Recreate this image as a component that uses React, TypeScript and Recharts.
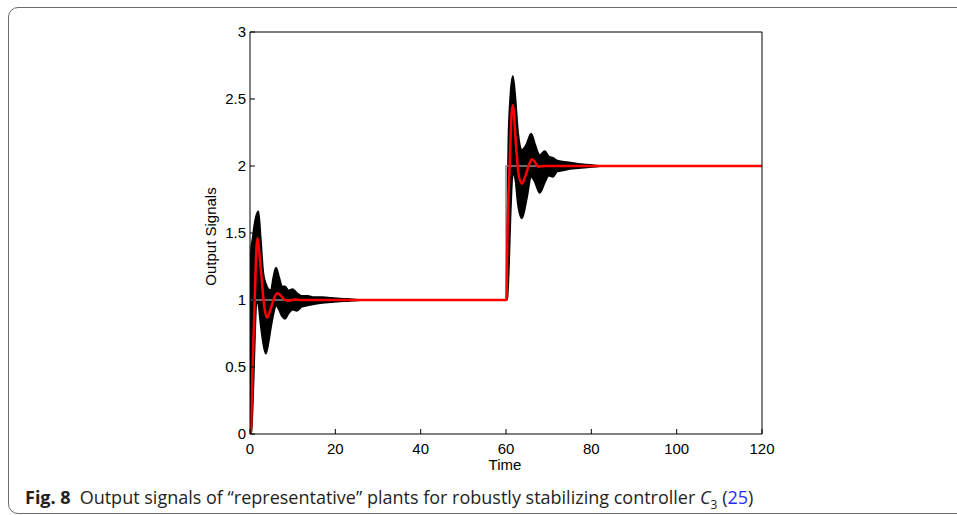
import { ComposedChart, Area, Line, XAxis, YAxis } from 'recharts'

const xTicks = [0, 20, 40, 60, 80, 100, 120]
const yTicks = [0, 0.5, 1, 1.5, 2, 2.5, 3]

// band covering all plant outputs (black)
const envTime = [
  0, 0.1, 0.3, 0.6, 1.0, 1.5, 1.95, 2.5, 3.1, 3.7, 4.3, 4.9, 5.5, 6.1, 6.8, 7.5, 8.2, 9, 10, 11, 12.1, 13.5, 15, 17, 19, 21, 23, 26,
  60, 60.15, 60.3, 60.6, 61, 61.6, 62.2, 62.8, 63.75, 64.8, 65.9, 66.8, 67.9, 69.1, 70, 71, 72, 73.7, 75, 77, 79, 82,
]
const envLow = [
  0, 0, 0.02, 0.2, 0.6, 0.98, 0.97, 0.82, 0.68, 0.6, 0.68, 0.8, 0.9, 0.96, 0.93, 0.88, 0.86, 0.9, 0.93, 0.92, 0.95, 0.96, 0.97, 0.98, 0.985, 0.99, 0.993, 1,
  1, 1, 1.02, 1.2, 1.6, 1.95, 1.9, 1.72, 1.61, 1.75, 1.92, 1.88, 1.8, 1.88, 1.93, 1.92, 1.96, 1.97, 1.98, 1.985, 1.99, 2,
]
const envHigh = [
  0, 0.9, 1.39, 1.45, 1.55, 1.63, 1.66, 1.45, 1.2, 1.12, 1.08, 1.07, 1.17, 1.24, 1.17, 1.1, 1.1, 1.07, 1.08, 1.05, 1.03, 1.03, 1.02, 1.02, 1.015, 1.01, 1.007, 1,
  1, 1.05, 1.6, 2.2, 2.5, 2.67, 2.5, 2.25, 2.12, 2.16, 2.24, 2.16, 2.08, 2.11, 2.07, 2.06, 2.04, 2.03, 2.025, 2.015, 2.01, 2,
]

// representative plant (red)
const redTime = [
  0, 0.2, 0.55, 0.9, 1.2, 1.5, 1.75, 2.1, 2.7, 3.35, 4.0, 4.8, 5.6, 6.4, 7.3, 8.2, 9.2, 10.5, 12, 60,
  60.15, 60.3, 60.85, 61.3, 61.6, 62.4, 63.0, 63.75, 64.6, 65.4, 66.1, 66.8, 67.5, 69, 71, 120,
]
const redValue = [
  0, 0.02, 0.43, 0.8, 1.1, 1.38, 1.46, 1.38, 1.17, 0.95, 0.868, 0.93, 1.01, 1.05, 1.03, 1.0, 0.995, 1.003, 1, 1,
  1, 1.4, 2.0, 2.38, 2.455, 2.13, 1.93, 1.868, 1.93, 2.01, 2.05, 2.03, 1.995, 2, 2, 2,
]

// reference input (grey)
const refTime = [0, 60, 60, 120]
const refValue = [1, 1, 2, 2]

const envData = envTime.map((t, i) => ({ t, range: [envLow[i], envHigh[i]] }))
const redData = redTime.map((t, i) => ({ t, v: redValue[i] }))
const refData = refTime.map((t, i) => ({ t, v: refValue[i] }))

const axisFont = { fontSize: 15, fill: '#000', fontFamily: 'Liberation Sans, Arial, sans-serif' }

export default function App() {
  return (
    <div style={{ position: 'absolute', left: 0, top: 0, width: 957, height: 515, overflow: 'hidden', background: '#fff' }}>
      <div
        style={{
          position: 'absolute',
          left: 8,
          top: 7,
          width: 1000,
          height: 505,
          border: '1.3px solid #6b6b6b',
          borderRadius: 10,
        }}
      />
      <div style={{ position: 'absolute', left: 0, top: 0 }}>
        <ComposedChart width={957} height={515} margin={{ top: 31, right: 194, bottom: 51, left: 200 }}>
          <XAxis
            dataKey="t"
            type="number"
            domain={[0, 120]}
            ticks={xTicks}
            allowDataOverflow
            height={30}
            tickSize={-5}
            tickMargin={14}
            stroke="#000"
            tick={axisFont}
          />
          <XAxis
            xAxisId="top"
            orientation="top"
            dataKey="t"
            type="number"
            domain={[0, 120]}
            ticks={xTicks}
            allowDataOverflow
            height={1}
            tickSize={-5}
            tickMargin={0}
            stroke="#000"
            tick={false}
          />
          <YAxis
            type="number"
            domain={[0, 3]}
            ticks={yTicks}
            allowDataOverflow
            width={50}
            tickSize={-5}
            tickMargin={9}
            stroke="#000"
            tick={axisFont}
          />
          <YAxis
            yAxisId="right"
            orientation="right"
            type="number"
            domain={[0, 3]}
            ticks={yTicks}
            allowDataOverflow
            width={1}
            tickSize={-5}
            tickMargin={0}
            stroke="#000"
            tick={false}
          />
          <Line
            data={refData}
            xAxisId="top"
            yAxisId="right"
            dataKey="v"
            type="linear"
            stroke="#8c8c8c"
            strokeWidth={1.5}
            dot={false}
            isAnimationActive={false}
          />
          <Area
            data={envData}
            dataKey="range"
            type="monotone"
            stroke="#000"
            strokeWidth={2}
            fill="#000"
            fillOpacity={1}
            dot={false}
            activeDot={false}
            isAnimationActive={false}
          />
          <Line
            data={redData}
            dataKey="v"
            type="monotone"
            stroke="#ff0000"
            strokeWidth={2.5}
            dot={false}
            isAnimationActive={false}
          />
        </ComposedChart>
      </div>
      <div
        style={{
          position: 'absolute',
          left: 455,
          width: 100,
          top: 456,
          textAlign: 'center',
          fontFamily: 'Liberation Sans, Arial, sans-serif',
          fontSize: 15,
          color: '#000',
        }}
      >
        Time
      </div>
      <div
        style={{
          position: 'absolute',
          left: 150,
          width: 120,
          top: 228,
          textAlign: 'center',
          transform: 'rotate(-90deg)',
          fontFamily: 'Liberation Sans, Arial, sans-serif',
          fontSize: 15,
          color: '#000',
          whiteSpace: 'nowrap',
        }}
      >
        Output Signals
      </div>
      <div
        style={{
          position: 'absolute',
          left: 25,
          top: 485,
          fontFamily: '"Open Sans", "Noto Sans", sans-serif',
          fontSize: 18,
          color: '#231f20',
          whiteSpace: 'nowrap',
        }}
      >
        <b>Fig. 8</b>
        {'\u2002'}Output signals of “representative” plants for robustly stabilizing controller{' '}
        <i>C</i>
        <sub style={{ fontSize: 12 }}>3</sub> (<span style={{ color: '#2a2aff' }}>25</span>)
      </div>
    </div>
  )
}
